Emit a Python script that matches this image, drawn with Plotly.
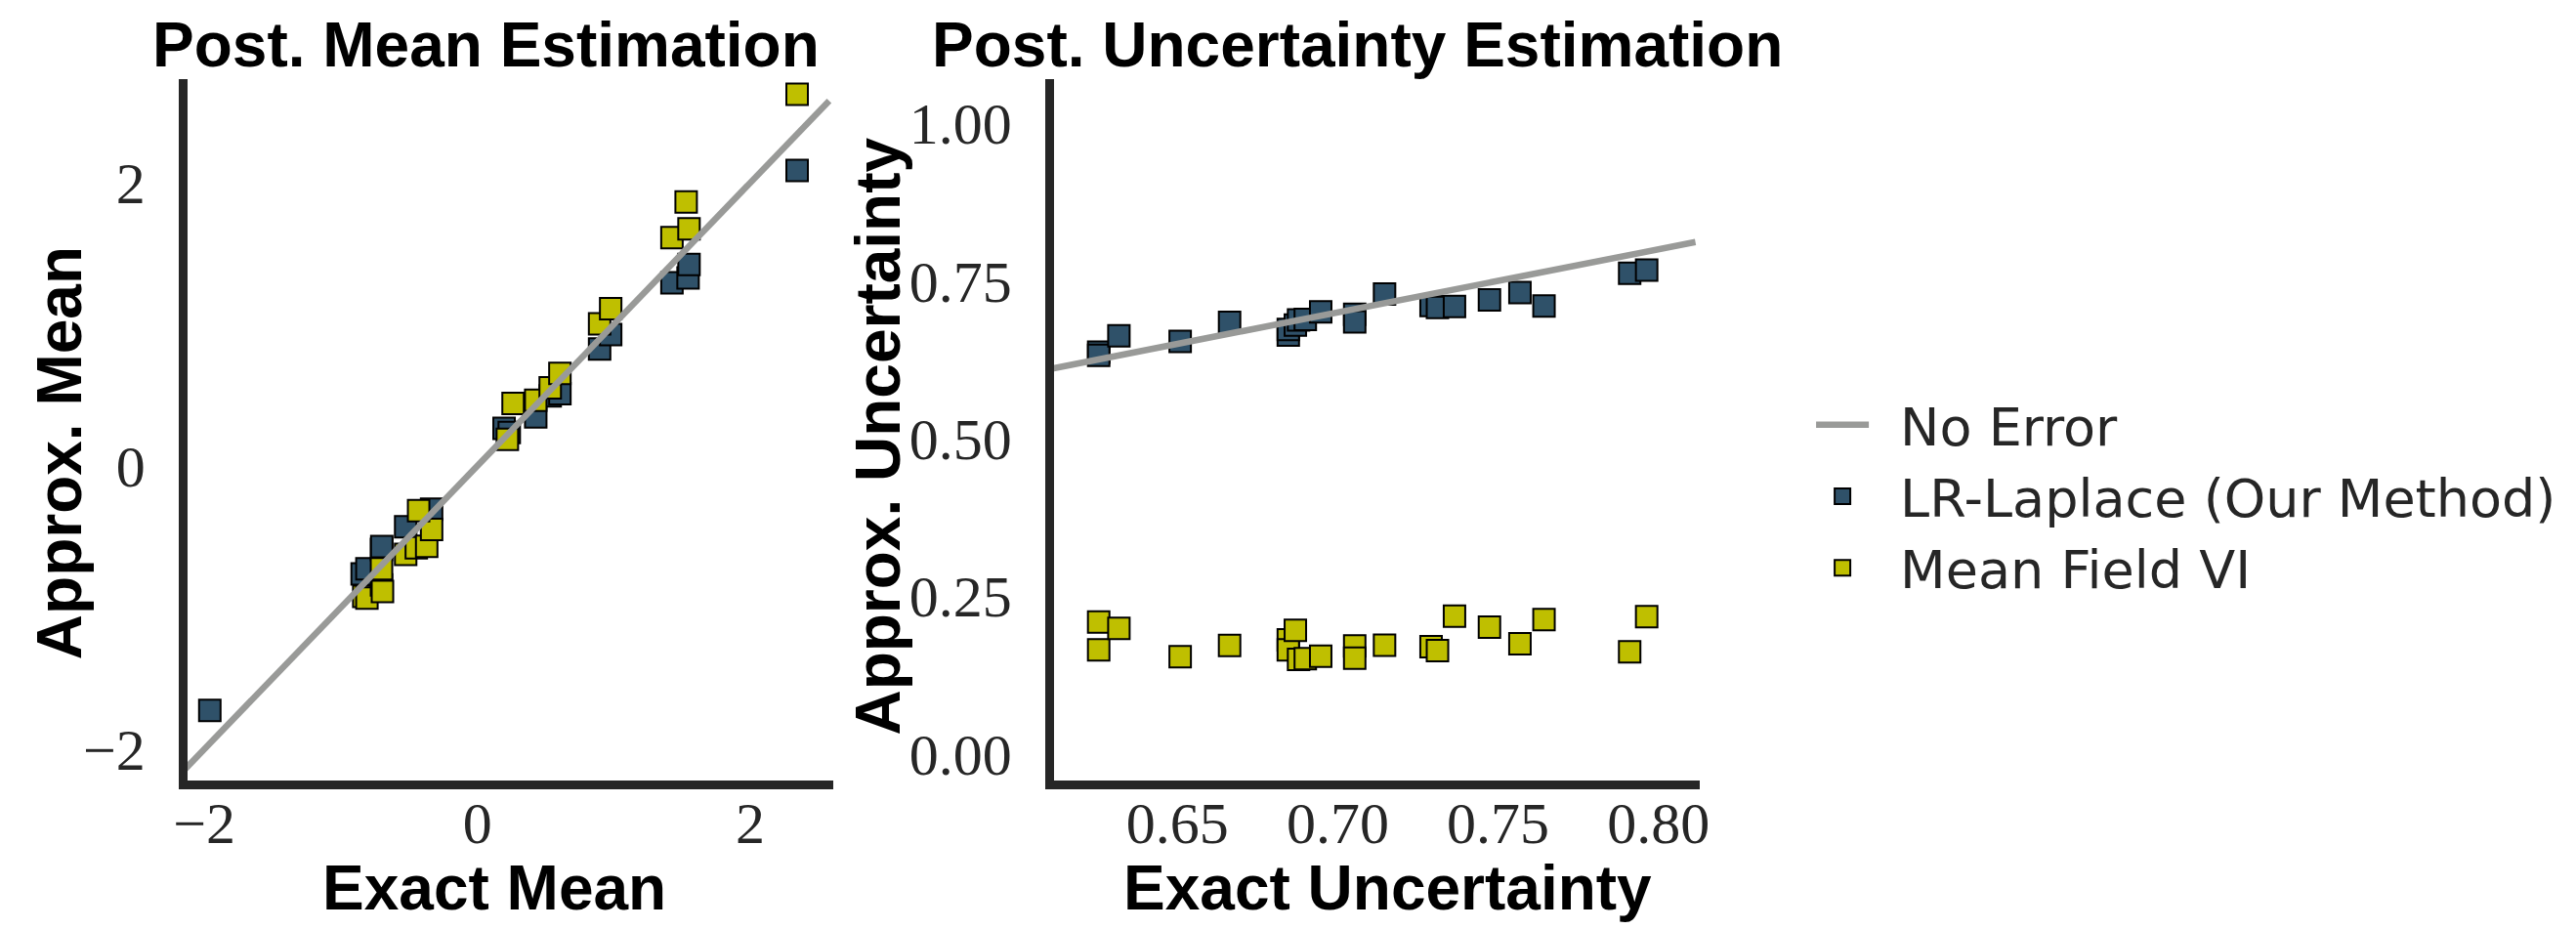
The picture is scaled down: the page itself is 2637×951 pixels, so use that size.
import plotly.graph_objects as go

W, H = 2637, 951

# ---------------- data ----------------
# Left panel: posterior mean
mean_exact_lr = [-1.960, -0.844, -0.809, -0.702, -0.700, -0.525, -0.335, 0.196, 0.234,
                 0.428, 0.534, 0.605, 0.896, 0.977, 1.426, 1.544, 1.551, 2.343]
mean_approx_lr = [-1.727, -0.762, -0.727, -0.590, -0.570, -0.430, -0.305, 0.266, 0.236,
                  0.346, 0.494, 0.510, 0.825, 0.928, 1.293, 1.327, 1.423, 2.086]
mean_exact_mf = [-0.832, -0.809, -0.702, -0.695, -0.702, -0.525, -0.447, -0.371, -0.335,
                 -0.430, 0.220, 0.262, 0.428, 0.534, 0.605, 0.896, 0.977, 1.426, 1.530,
                 1.551, 2.343]
mean_approx_mf = [-0.921, -0.933, -0.841, -0.887, -0.727, -0.625, -0.579, -0.567, -0.449,
                  -0.316, 0.188, 0.442, 0.464, 0.551, 0.654, 1.003, 1.111, 1.613, 1.864,
                  1.675, 2.625]

# Right panel: posterior uncertainty
unc_exact = [0.6255, 0.6255, 0.6318, 0.6509, 0.6663, 0.6846, 0.6846, 0.6868, 0.6878,
             0.6899, 0.6947, 0.7053, 0.7053, 0.7146, 0.7291, 0.7311, 0.7364, 0.7473,
             0.7568, 0.7643, 0.7910, 0.7963]
unc_approx_lr = [0.637, 0.632, 0.663, 0.654, 0.684, 0.664, 0.673, 0.680, 0.688, 0.689,
                 0.701, 0.697, 0.685, 0.729, 0.711, 0.708, 0.7095, 0.720, 0.7315, 0.710,
                 0.762, 0.767]
unc_approx_mf = [0.209, 0.165, 0.199, 0.154, 0.172, 0.181, 0.165, 0.196, 0.150, 0.151,
                 0.155, 0.171, 0.152, 0.1725, 0.170, 0.164, 0.2186, 0.201, 0.1745, 0.213,
                 0.162, 0.2175]

no_error_mean = [-2.156, 2.578]
no_error_unc = [0.6101, 0.8115]

mean_ticks = [-2, 0, 2]
mean_ticktext = ["\u22122", "0", "2"]
unc_xticks = [0.65, 0.70, 0.75, 0.80]
unc_xticktext = ["0.65", "0.70", "0.75", "0.80"]
unc_yticks = [0.0, 0.25, 0.5, 0.75, 1.0]
unc_yticktext = ["0.00", "0.25", "0.50", "0.75", "1.00"]

series_names = ["No Error", "LR-Laplace (Our Method)", "Mean Field VI"]

# ---------------- style ----------------
BLUE = "#2f5169"
YEL = "#bfbf00"
GRAY = "#999a98"
SPINE = "#262626"
TICKFONT = dict(family="Liberation Serif", size=60, color="#262626")
BOLD = dict(family="Liberation Sans", size=64, color="black", weight="bold")
PAD = "\u2002"  # small gap between legend symbol and label


def px_x(p):
    return p / W


def px_y(p):
    return 1 - p / H


marker_lr = dict(symbol="square", size=22, color=BLUE, line=dict(color="black", width=2))
marker_mf = dict(symbol="square", size=22, color=YEL, line=dict(color="black", width=2))
line_ne = dict(color=GRAY, width=6.5)

fig = go.Figure()

# left panel
fig.add_trace(go.Scatter(x=mean_exact_lr, y=mean_approx_lr, mode="markers", marker=marker_lr,
                         name=PAD + series_names[1], legendgroup="lr", legendrank=2,
                         xaxis="x", yaxis="y"))
fig.add_trace(go.Scatter(x=mean_exact_mf, y=mean_approx_mf, mode="markers", marker=marker_mf,
                         name=PAD + series_names[2], legendgroup="mf", legendrank=3,
                         xaxis="x", yaxis="y"))
fig.add_trace(go.Scatter(x=no_error_mean, y=no_error_mean, mode="lines", line=line_ne,
                         name=PAD + series_names[0], legendgroup="ne", legendrank=1,
                         xaxis="x", yaxis="y"))

# right panel
fig.add_trace(go.Scatter(x=unc_exact, y=unc_approx_lr, mode="markers", marker=marker_lr,
                         name=series_names[1], legendgroup="lr", showlegend=False,
                         xaxis="x2", yaxis="y2"))
fig.add_trace(go.Scatter(x=unc_exact, y=unc_approx_mf, mode="markers", marker=marker_mf,
                         name=series_names[2], legendgroup="mf", showlegend=False,
                         xaxis="x2", yaxis="y2"))
fig.add_trace(go.Scatter(x=no_error_unc, y=no_error_unc, mode="lines", line=line_ne,
                         name=series_names[0], legendgroup="ne", showlegend=False,
                         xaxis="x2", yaxis="y2"))

axis_common = dict(showline=True, linewidth=9, linecolor=SPINE, showgrid=False, zeroline=False,
                   ticks="", tickfont=TICKFONT, fixedrange=True)

fig.update_layout(
    width=W, height=H,
    margin=dict(l=0, r=0, t=0, b=0),
    paper_bgcolor="white", plot_bgcolor="white",
    showlegend=True,
    xaxis=dict(domain=[px_x(179.5), px_x(847)], range=[-2.124, 2.610], anchor="y",
               tickvals=mean_ticks, ticktext=mean_ticktext, ticklabelstandoff=-17, **axis_common),
    yaxis=dict(domain=[px_y(804.5), px_y(82)], range=[-2.219, 2.729], anchor="x",
               tickvals=mean_ticks, ticktext=mean_ticktext, ticklabelstandoff=22, **axis_common),
    xaxis2=dict(domain=[px_x(1074.5), px_x(1741.7)], range=[0.6115, 0.8128], anchor="y2",
                tickvals=unc_xticks, ticktext=unc_xticktext, ticklabelstandoff=-17, **axis_common),
    yaxis2=dict(domain=[px_y(804.5), px_y(82)], range=[-0.0415, 1.0692], anchor="x2",
                tickvals=unc_yticks, ticktext=unc_yticktext, ticklabelstandoff=22, **axis_common),
    legend=dict(x=px_x(1857), y=px_y(512), xanchor="left", yanchor="middle",
                font=dict(family="DejaVu Sans", size=54, color="#262626"),
                itemwidth=54, bgcolor="rgba(0,0,0,0)", traceorder="normal"),
)

annots = [
    dict(text="Post. Mean Estimation", x=px_x(488), y=px_y(46)),
    dict(text="Post. Uncertainty Estimation", x=px_x(1388), y=px_y(46)),
    dict(text="Exact Mean", x=px_x(497), y=px_y(916)),
    dict(text="Exact Uncertainty", x=px_x(1419), y=px_y(916)),
    dict(text="Approx. Mean", x=px_x(47), y=px_y(467), textangle=-90),
    dict(text="Approx. Uncertainty", x=px_x(893), y=px_y(450), textangle=-90),
]
for a in annots:
    fig.add_annotation(xref="paper", yref="paper", xanchor="center", yanchor="middle",
                       showarrow=False, font=BOLD, **a)

fig.write_html("out.html")
